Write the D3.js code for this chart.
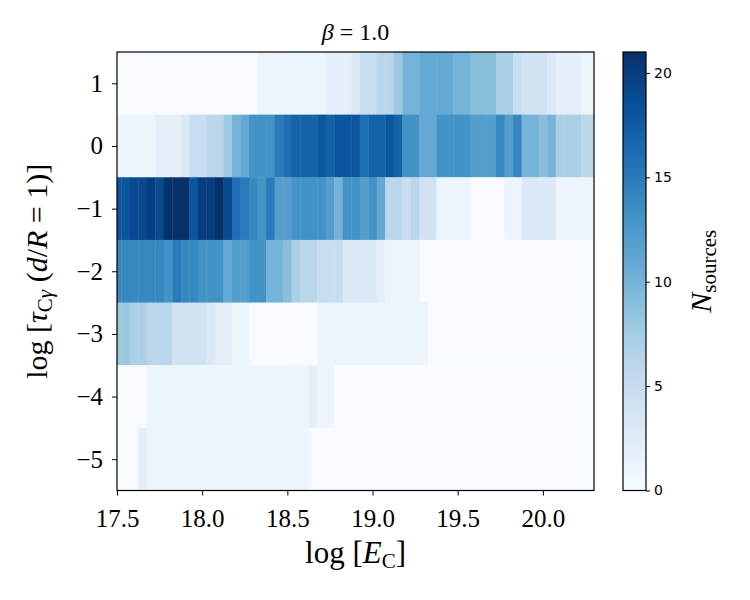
<!DOCTYPE html>
<html>
<head>
<meta charset="utf-8">
<script src="https://cdn.jsdelivr.net/npm/d3@7"></script>
<style>
  body { margin: 0; background: #fff; }
  svg text { fill: #000; }
</style>
</head>
<body>
<div id="chart-area"></div>
<script>
/*
*    heatmap: tau vs E_C, beta = 1.0
*/

// bin centres in log E_C (bin width 0.05)
var eBins = [17.50, 17.55, 17.60, 17.65, 17.70, 17.75, 17.80, 17.85, 17.90, 17.95,
             18.00, 18.05, 18.10, 18.15, 18.20, 18.25, 18.30, 18.35, 18.40, 18.45,
             18.50, 18.55, 18.60, 18.65, 18.70, 18.75, 18.80, 18.85, 18.90, 18.95,
             19.00, 19.05, 19.10, 19.15, 19.20, 19.25, 19.30, 19.35, 19.40, 19.45,
             19.50, 19.55, 19.60, 19.65, 19.70, 19.75, 19.80, 19.85, 19.90, 19.95,
             20.00, 20.05, 20.10, 20.15, 20.20, 20.25, 20.30];
var binWidth = 0.05;

// log tau rows
var tauRows = [1, 0, -1, -2, -3, -4, -5];

// N sources per bin, one array per row
var nTau1  = [0,0,0,0,0,0,0,0,0,0, 0,0,0,0,0,0,0,1,1,1, 1,1,1,1,1,2,2,2,3,5,
              5,6,6,8,10,10,11,11,11,11, 10,10,9,9,9,7,7,5,4,4, 4,3,2,2,2,1,1];
var nTau0  = [1,1,1,1,1,2,2,2,3,5, 5,6,6,8,10,11,13,13,13,15, 16,17,17,17,18,17,18,18,18,16,
              17,17,18,17,13,13,11,11,13,13, 13,13,12,12,12,14,12,14,10,10, 9,10,7,7,7,6,6];
var nTauM1 = [18,18,19,19,20,19,21,21,21,18, 20,20,21,19,16,15,14,13,15,12, 12,13,13,13,13,12,10,13,13,12,
              13,11,6,6,5,6,4,4,1,1, 1,1,0,0,0,0,1,1,3,3, 3,3,1,1,1,1,1];
var nTauM2 = [14,14,14,14,14,14,13,15,14,14, 13,13,13,11,12,12,13,13,10,10, 9,7,6,6,5,5,5,3,3,3,
              3,2,1,1,1,1,0,0,0,0, 0,0,0,0,0,0,0,0,0,0, 0,0,0,0,0,0,0];
var nTauM3 = [8,8,7,7,6,6,6,4,4,4, 4,3,2,2,1,1,0,0,0,0, 0,0,0,0,1,1,1,1,1,1,
              1,1,1,1,1,1,1,0,0,0, 0,0,0,0,0,0,0,0,0,0, 0,0,0,0,0,0,0];
var nTauM4 = [0,0,0,0,1,1,1,1,1,1, 1,1,1,1,1,1,1,1,1,1, 1,1,1,2,1,1,0,0,0,0,
              0,0,0,0,0,0,0,0,0,0, 0,0,0,0,0,0,0,0,0,0, 0,0,0,0,0,0,0];
var nTauM5 = [0,0,0,2,1,1,1,1,1,1, 1,1,1,1,1,1,1,1,1,1, 1,1,1,0,0,0,0,0,0,0,
              0,0,0,0,0,0,0,0,0,0, 0,0,0,0,0,0,0,0,0,0, 0,0,0,0,0,0,0];

var rowCounts = [nTau1, nTau0, nTauM1, nTauM2, nTauM3, nTauM4, nTauM5];

var xTicks = [17.5, 18.0, 18.5, 19.0, 19.5, 20.0];
var yTicks = [1, 0, -1, -2, -3, -4, -5];
var cTicks = [0, 5, 10, 15, 20];
var nMax = 21;

// matplotlib "Blues"
var bluesStops = ["#f7fbff", "#deebf7", "#c6dbef", "#9ecae1", "#6baed6",
                  "#4292c6", "#2171b5", "#08519c", "#08306b"];
var blues = d3.piecewise(d3.interpolateRgb, bluesStops);
var color = (v) => blues(Math.max(0, Math.min(1, v / nMax)));

var width = 750;
var height = 600;
var plot = {left: 117, right: 594, top: 52, bottom: 490.5};
var cbar = {left: 623, right: 646};

var svg = d3.select("#chart-area").append("svg")
            .attr("width", width)
            .attr("height", height);

var x = d3.scaleLinear()
          .domain([17.5, 20.3])
          .range([plot.left, plot.right]);

var y = d3.scaleLinear()
          .domain([-5.5, 1.5])
          .range([plot.bottom, plot.top]);

svg.append("clipPath")
   .attr("id", "plot-clip")
   .append("rect")
     .attr("x", plot.left)
     .attr("y", plot.top)
     .attr("width", plot.right - plot.left)
     .attr("height", plot.bottom - plot.top);

var cells = [];
tauRows.forEach((t, r) => {
  eBins.forEach((e, i) => {
    cells.push({tau: t, e: e, n: rowCounts[r][i]});
  });
});

svg.append("g")
   .attr("clip-path", "url(#plot-clip)")
   .selectAll("rect")
   .data(cells)
   .enter()
   .append("rect")
     .attr("x", (d) => x(d.e - binWidth / 2))
     .attr("y", (d) => y(d.tau + 0.5))
     .attr("width", (d) => x(d.e + binWidth / 2) - x(d.e - binWidth / 2) + 0.4)
     .attr("height", (d) => y(d.tau - 0.5) - y(d.tau + 0.5) + 0.4)
     .attr("fill", (d) => color(d.n));

// frame
svg.append("rect")
   .attr("x", plot.left)
   .attr("y", plot.top)
   .attr("width", plot.right - plot.left)
   .attr("height", plot.bottom - plot.top)
   .attr("fill", "none")
   .attr("stroke", "#000")
   .attr("stroke-width", 1.2);

var serif = "'Liberation Serif', 'DejaVu Serif', serif";

var bottomAxis = d3.axisBottom(x)
                   .tickValues(xTicks)
                   .tickFormat(d3.format(".1f"))
                   .tickSize(5)
                   .tickSizeOuter(0);
var gx = svg.append("g")
            .attr("class", "bottom axis")
            .attr("transform", "translate(0," + plot.bottom + ")")
            .call(bottomAxis);
gx.select(".domain").remove();
gx.selectAll("line").attr("stroke-width", 1);
gx.selectAll("text")
  .attr("y", 36)
  .attr("dy", 0)
  .attr("font-family", serif)
  .attr("font-size", "25px");

var leftAxis = d3.axisLeft(y)
                 .tickValues(yTicks)
                 .tickFormat((d) => d < 0 ? "\u2212" + Math.abs(d) : d)
                 .tickSize(5)
                 .tickSizeOuter(0);
var gy = svg.append("g")
            .attr("class", "left axis")
            .attr("transform", "translate(" + plot.left + ",0)")
            .call(leftAxis);
gy.select(".domain").remove();
gy.selectAll("line").attr("stroke-width", 1);
gy.selectAll("text")
  .attr("x", -14)
  .attr("font-family", serif)
  .attr("font-size", "25px");

// title
var title = svg.append("text")
   .attr("x", (plot.left + plot.right) / 2)
   .attr("y", 40)
   .attr("text-anchor", "middle")
   .attr("font-family", serif)
   .attr("font-size", "24px");
title.append("tspan").attr("font-style", "italic").text("\u03b2");
title.append("tspan").text(" = 1.0");

// x label
var xl = svg.append("text")
   .attr("x", (plot.left + plot.right) / 2)
   .attr("y", 563)
   .attr("text-anchor", "middle")
   .attr("font-family", serif)
   .attr("font-size", "31px");
xl.append("tspan").text("log [");
xl.append("tspan").attr("font-style", "italic").text("E");
xl.append("tspan").attr("font-size", "21px").attr("dy", 5).text("C");
xl.append("tspan").attr("dy", -5).text("]");

// y label
var yl = svg.append("text")
   .attr("transform", "translate(47," + ((plot.top + plot.bottom) / 2) + ") rotate(-90)")
   .attr("text-anchor", "middle")
   .attr("font-family", serif)
   .attr("font-size", "30px");
yl.append("tspan").text("log [");
yl.append("tspan").attr("font-style", "italic").text("\u03c4");
yl.append("tspan").attr("font-size", "21px").attr("dy", 5).text("C");
yl.append("tspan").attr("font-size", "21px").attr("font-style", "italic").text("\u03b3");
yl.append("tspan").attr("dy", -5).text(" (");
yl.append("tspan").attr("font-style", "italic").text("d");
yl.append("tspan").text("/");
yl.append("tspan").attr("font-style", "italic").text("R");
yl.append("tspan").text(" = 1)]");

// colorbar
var c = d3.scaleLinear()
          .domain([0, nMax])
          .range([plot.bottom, plot.top]);

var grad = svg.append("defs").append("linearGradient")
              .attr("id", "cbar-grad")
              .attr("x1", 0).attr("y1", 1)
              .attr("x2", 0).attr("y2", 0);
grad.selectAll("stop")
    .data(bluesStops)
    .enter()
    .append("stop")
      .attr("offset", (d, i) => i / (bluesStops.length - 1))
      .attr("stop-color", (d) => d);

svg.append("rect")
   .attr("x", cbar.left)
   .attr("y", plot.top)
   .attr("width", cbar.right - cbar.left)
   .attr("height", plot.bottom - plot.top)
   .attr("fill", "url(#cbar-grad)")
   .attr("stroke", "#000")
   .attr("stroke-width", 1.2);

var cAxis = d3.axisRight(c)
              .tickValues(cTicks)
              .tickSize(4)
              .tickSizeOuter(0);
var gc = svg.append("g")
            .attr("class", "cbar axis")
            .attr("transform", "translate(" + cbar.right + ",0)")
            .call(cAxis);
gc.select(".domain").remove();
gc.selectAll("text")
  .attr("x", 8)
  .attr("font-family", "'DejaVu Sans', sans-serif")
  .attr("font-size", "14px");

var cl = svg.append("text")
   .attr("transform", "translate(711," + ((plot.top + plot.bottom) / 2) + ") rotate(-90)")
   .attr("text-anchor", "middle")
   .attr("font-family", serif)
   .attr("font-size", "30px");
cl.append("tspan").attr("font-style", "italic").text("N");
cl.append("tspan").attr("font-size", "21px").attr("dy", 5).text("sources");
</script>
</body>
</html>
